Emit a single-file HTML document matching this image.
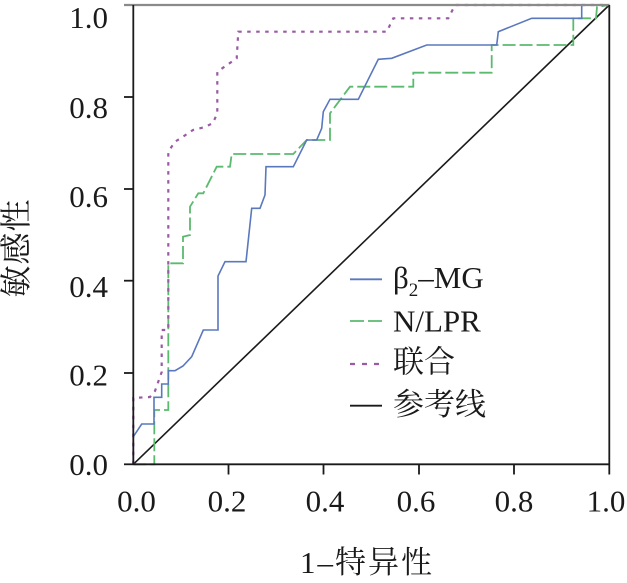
<!DOCTYPE html>
<html>
<head>
<meta charset="utf-8">
<style>
html,body{margin:0;padding:0;background:#fff;}
svg{display:block;}
.num{font-family:"Liberation Serif","Noto Serif CJK SC",serif;font-size:31px;fill:#1a1a1a;}
.cjk{font-family:"Liberation Serif","Noto Serif CJK SC",serif;fill:#1a1a1a;}
</style>
</head>
<body>
<svg width="627" height="583" viewBox="0 0 627 583" xmlns="http://www.w3.org/2000/svg">
  <!-- reference diagonal -->
  <line x1="133.3" y1="464.3" x2="609.3" y2="5" stroke="#1a1a1a" stroke-width="1.6"/>

  <!-- green dashed N/LPR -->
  <polyline fill="none" stroke="#5cba6e" stroke-width="1.8" stroke-dasharray="13,4"
    points="133.3,464.3 154.3,464.3 154.3,410 168.3,410 168.3,263.3 183,263.3 183,236.7 190,235 190,206.7 198.3,193.3 203.3,193.3 216.7,166.7 230,166.7 231.7,154 293.3,154 306.7,140 330,140 330,113.3 350,86.7 413.3,86.7 413.3,72.7 491.7,72.7 491.7,45 573.3,45 573.3,18.3 596,18.3 597,7 609.3,5"/>

  <!-- purple dotted 联合 -->
  <polyline fill="none" stroke="#9a5aa6" stroke-width="2.2" stroke-dasharray="3.5,5.5"
    points="133.3,464.3 133.3,398 150,397 155,391 161.7,372 161.7,330 168.3,330 168.3,151.7 175,141.7 183,136.7 193,130 205,127 213,123 217.3,113 217.3,71.7 236.7,58.3 238.3,31.7 386.7,31.7 393.3,18.3 448.3,18.3 455,5 609.3,5"/>

  <!-- blue solid β2-MG -->
  <polyline fill="none" stroke="#5a78bd" stroke-width="1.6"
    points="133.3,464.3 133.3,436.7 141.7,424 154,424 154,397.3 161.7,397.3 161.7,384 168.3,384 168.3,370.7 175,370.7 183,366 191.7,356.7 203.3,330 218,330 218,276 225,261.7 246,261.7 251.7,208.3 260,208.3 265,195 266,166.7 293.3,166.7 306.7,140 316.7,140 321.7,128.3 323.3,111.7 330,99.3 358.3,99.3 378.3,59.3 391.7,58.3 426.7,45 496.7,45 498.3,31.7 531.7,18.3 581.7,18.3 581.7,5 609.3,5"/>

  <!-- axes -->
  <line x1="124" y1="5" x2="609.3" y2="5" stroke="#8a8a8a" stroke-width="2.2"/>
  <line x1="133.3" y1="5" x2="133.3" y2="465" stroke="#1a1a1a" stroke-width="1.8"/>
  <line x1="133.3" y1="464.3" x2="610" y2="464.3" stroke="#1a1a1a" stroke-width="1.8"/>
  <line x1="609.3" y1="5" x2="609.3" y2="474.5" stroke="#1a1a1a" stroke-width="1.8"/>

  <!-- y ticks -->
  <g stroke="#1a1a1a" stroke-width="1.8">
    <line x1="124" y1="97" x2="133.3" y2="97"/>
    <line x1="124" y1="189" x2="133.3" y2="189"/>
    <line x1="124" y1="280.7" x2="133.3" y2="280.7"/>
    <line x1="124" y1="373" x2="133.3" y2="373"/>
    <line x1="124" y1="464.3" x2="133.3" y2="464.3"/>
    <!-- x ticks -->
    <line x1="228.5" y1="464.3" x2="228.5" y2="474.5"/>
    <line x1="323.5" y1="464.3" x2="323.5" y2="474.5"/>
    <line x1="419" y1="464.3" x2="419" y2="474.5"/>
    <line x1="514" y1="464.3" x2="514" y2="474.5"/>
  </g>

  <!-- y tick labels -->
  <g class="num" text-anchor="end">
    <text x="108" y="28">1.0</text>
    <text x="108" y="118">0.8</text>
    <text x="108" y="207">0.6</text>
    <text x="108" y="297">0.4</text>
    <text x="108" y="385.5">0.2</text>
    <text x="108" y="475">0.0</text>
  </g>

  <!-- x tick labels -->
  <g class="num" text-anchor="middle">
    <text x="136.5" y="511.5">0.0</text>
    <text x="227" y="511.5">0.2</text>
    <text x="325" y="511.5">0.4</text>
    <text x="416" y="511.5">0.6</text>
    <text x="514" y="511.5">0.8</text>
    <text x="606" y="511.5">1.0</text>
  </g>

  <!-- axis titles -->
  <text class="cjk" x="300" y="573" font-size="31" letter-spacing="2">1–特异性</text>
  <text class="cjk" font-size="32" text-anchor="middle" transform="translate(27,248) rotate(-90)" letter-spacing="1">敏感性</text>

  <!-- legend -->
  <line x1="350" y1="279.3" x2="382" y2="279.3" stroke="#5a78bd" stroke-width="1.8"/>
  <text class="num" x="393" y="288" font-size="30">β<tspan font-size="19" dy="8">2</tspan><tspan dy="-8">–MG</tspan></text>

  <line x1="350" y1="321" x2="382" y2="321" stroke="#5cba6e" stroke-width="1.8" stroke-dasharray="14,4"/>
  <text class="num" x="393" y="331.7" font-size="30">N/LPR</text>

  <line x1="350" y1="364" x2="380" y2="364" stroke="#9a5aa6" stroke-width="2.2" stroke-dasharray="5,7"/>
  <text class="cjk" x="393" y="372.5" font-size="31">联合</text>

  <line x1="350" y1="405.7" x2="382" y2="405.7" stroke="#1a1a1a" stroke-width="1.8"/>
  <text class="cjk" x="393" y="415" font-size="31">参考线</text>
</svg>
</body>
</html>
